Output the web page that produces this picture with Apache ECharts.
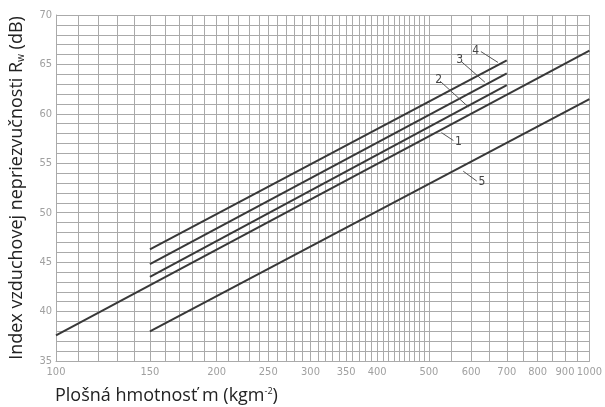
<!DOCTYPE html>
<html>
<head>
<meta charset="utf-8">
<script src="https://cdn.jsdelivr.net/npm/echarts@6/dist/echarts.min.js"></script>
<style>
  html, body { margin: 0; padding: 0; background: #fff; }
  #chart { width: 605px; height: 407px; }
</style>
</head>
<body>
<div id="chart"></div>
<script>
'use strict';

// x tick labels and grid positions (kg/m2)
var xLabels = [100, 150, 200, 250, 300, 350, 400, 500, 600, 700, 800, 900, 1000]
var xGrid = []
for (var g = 100; g < 500; g += 10) xGrid.push(g)
for (var g = 500; g <= 1000; g += 50) xGrid.push(g)

var yLabels = [35, 40, 45, 50, 55, 60, 65, 70]

// curves: [m, Rw]
var line1 = [[100, 37.6], [1000, 66.4]]
var line2 = [[150, 43.5], [700, 62.9]]
var line3 = [[150, 44.8], [700, 64.1]]
var line4 = [[150, 46.3], [700, 65.4]]
var line5 = [[150, 38.0], [1000, 61.5]]

// leader lines for the curve numbers: [text end, curve end]
var lead1 = [[556, 57.3], [528, 58.1]]
var lead2 = [[525, 63.3], [593, 60.7]]
var lead3 = [[575, 65.3], [637, 63.2]]
var lead4 = [[626, 66.3], [674, 65.2]]
var lead5 = [[615, 53.2], [580, 54.2]]

var ink = '#383838'
var gridCol = '#aaaaaa'
var tickFont = 'Liberation Sans Narrow, DejaVu Sans Condensed, sans-serif'

function leader(name, pts) {
  return {
    silent: true,
    symbol: 'none',
    lineStyle: { color: '#555', width: 1, type: 'solid' },
    label: {
      show: true, position: 'start', distance: 2,
      formatter: name, color: '#444', fontSize: 12, fontFamily: tickFont
    },
    data: [[{ coord: pts[0] }, { coord: pts[1] }]]
  }
}

function curve(name, data, lead) {
  return {
    name: name,
    type: 'line',
    data: data,
    symbol: 'none',
    silent: true,
    lineStyle: { color: ink, width: 2 },
    markLine: leader(name, lead)
  }
}

var chart = echarts.init(document.getElementById('chart'))
chart.setOption({
  animation: false,
  backgroundColor: '#fff',
  title: {
    text: 'Plošná hmotnosť m (kgm{sup|-2})',
    left: 50, top: 382,
    textStyle: {
      fontFamily: 'Open Sans', fontSize: 18, fontWeight: 'normal', color: '#222',
      rich: { sup: { fontSize: 9, verticalAlign: 'top', color: '#222', fontFamily: 'Open Sans' } }
    }
  },
  grid: { left: 55, right: 13, top: 15, bottom: 46 },
  xAxis: {
    type: 'log', logBase: 10, min: 100, max: 1000,
    axisLine: { show: true, lineStyle: { color: gridCol } },
    axisTick: { show: false, customValues: xGrid },
    axisLabel: {
      customValues: xLabels, margin: 6, color: '#a0a0a0', fontSize: 11,
      fontFamily: tickFont,
      formatter: function (v) { return String(Math.round(v)) }
    },
    splitLine: { show: true, lineStyle: { color: gridCol, width: 1 } },
    minorSplitLine: { show: false }
  },
  yAxis: {
    type: 'value', min: 35, max: 70, interval: 1,
    name: 'Index vzduchovej nepriezvučnosti R{sub|w} (dB)',
    nameLocation: 'middle', nameRotate: 90, nameGap: 30,
    nameTextStyle: {
      fontFamily: 'Open Sans', fontSize: 18, color: '#222',
      rich: { sub: { fontSize: 10, verticalAlign: 'bottom', color: '#222', fontFamily: 'Open Sans' } }
    },
    axisLine: { show: true, lineStyle: { color: gridCol } },
    axisTick: { show: false },
    axisLabel: {
      customValues: yLabels, margin: 4, color: '#a0a0a0', fontSize: 11,
      fontFamily: tickFont
    },
    splitLine: { show: true, lineStyle: { color: gridCol, width: 1 } }
  },
  series: [
    curve('1', line1, lead1),
    curve('2', line2, lead2),
    curve('3', line3, lead3),
    curve('4', line4, lead4),
    curve('5', line5, lead5)
  ]
})
</script>
</body>
</html>
